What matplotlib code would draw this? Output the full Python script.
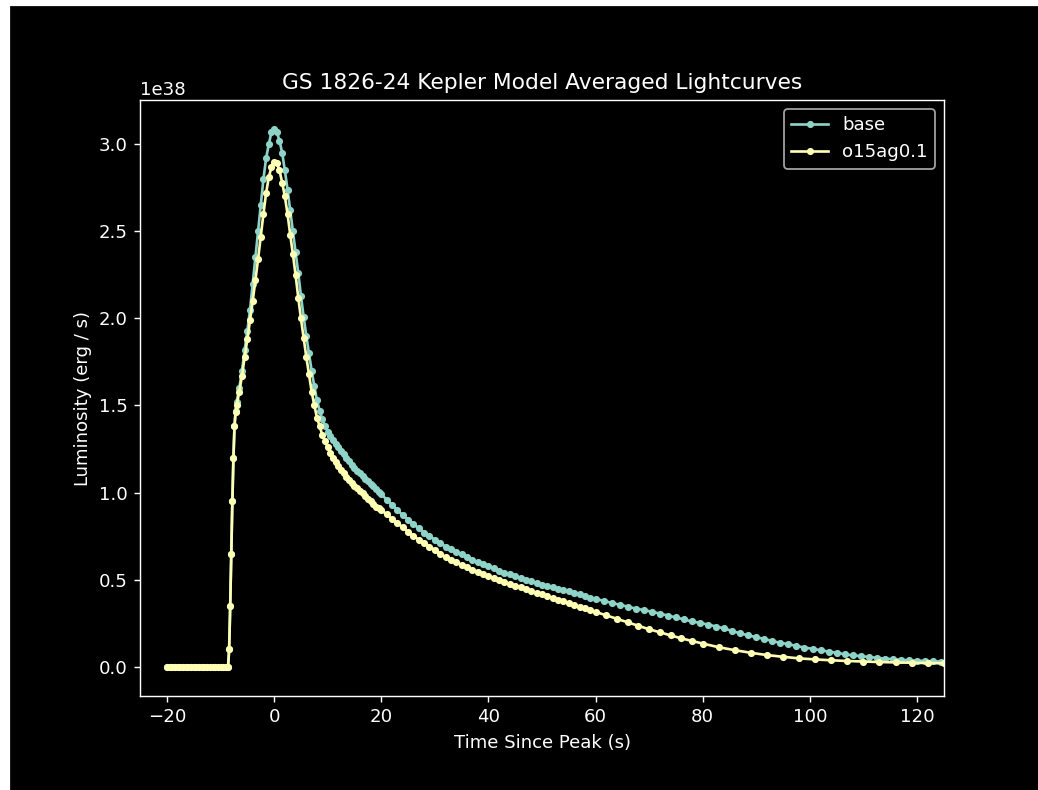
import matplotlib.pyplot as plt
import matplotlib.patches as patches
import numpy as np

plt.style.use('dark_background')
plt.rcParams['font.size'] = 10.2

# luminosity values in units of 1e38 erg/s
flat_t = [-20, -19.5, -19, -18.5, -18, -17.5, -17, -16.5, -16, -15.5, -15, -14.5,
          -14, -13.5, -13, -12.5, -12, -11.5, -11, -10.5, -10, -9.5, -9]
flat_L = [0] * len(flat_t)

rise_t = [-8.6, -8.4, -8.2, -8.0, -7.8, -7.6, -7.4, -7.2, -7.0, -6.5, -6, -5.5,
          -5, -4.5, -4, -3.5, -3, -2.5, -2, -1.5, -1, -0.5]

# base
t_base = flat_t + rise_t + [
    0, 0.5, 1, 1.5, 2, 2.5, 3, 3.5, 4, 4.5, 5, 5.5, 6, 6.5, 7, 7.5, 8, 8.5, 9, 9.5,
    10, 10.5, 11, 11.5, 12, 12.5, 13, 13.5, 14, 14.5, 15, 15.5, 16, 16.5, 17, 17.5,
    18, 18.5, 19, 19.5,
    20, 21, 22, 23, 24, 25, 26, 27, 28, 29, 30, 31, 32, 33, 34, 35, 36, 37, 38, 39,
    40, 41, 42, 43, 44, 45, 46, 47, 48, 49, 50, 51, 52, 53, 54, 55, 56, 57, 58, 59,
    60, 61.5, 63, 64.5, 66, 67.5, 69, 70.5, 72, 73.5, 75, 76.5, 78, 79.5, 81, 82.5,
    84, 85.5, 87, 88.5, 90, 91.5, 93, 94.5, 96, 97.5, 99, 100.5, 102, 103.5, 105,
    106.5, 108, 109.5, 111, 112.5, 114, 115.5, 117, 118.5, 120, 121.5, 123, 124.5, 126]
L_base = flat_L + [
    0.0, 0.1, 0.35, 0.65, 0.95, 1.2, 1.38, 1.47, 1.52, 1.6, 1.7, 1.82,
    1.93, 2.05, 2.2, 2.35, 2.5, 2.65, 2.8, 2.92, 3.0, 3.07] + [
    3.09, 3.07, 3.02, 2.95, 2.85, 2.74, 2.62, 2.5, 2.38, 2.26, 2.13, 2.01, 1.9, 1.8,
    1.7, 1.61, 1.53, 1.47, 1.42, 1.385,
    1.35, 1.325, 1.30, 1.28, 1.26, 1.24, 1.22, 1.20, 1.18, 1.16, 1.14, 1.125, 1.11,
    1.095, 1.08, 1.065, 1.05, 1.035, 1.02, 1.005,
    0.99, 0.96, 0.93, 0.90, 0.87, 0.845, 0.82, 0.795, 0.77, 0.75, 0.73, 0.71, 0.69,
    0.675, 0.66, 0.645, 0.63, 0.615, 0.60, 0.59,
    0.58, 0.565, 0.55, 0.54, 0.53, 0.52, 0.51, 0.50, 0.49, 0.48, 0.47, 0.462, 0.455,
    0.447, 0.44, 0.432, 0.425, 0.415, 0.405, 0.397,
    0.39, 0.378, 0.367, 0.356, 0.345, 0.334, 0.325, 0.316, 0.305, 0.294, 0.283,
    0.272, 0.26, 0.252, 0.242, 0.231,
    0.22, 0.205, 0.192, 0.18, 0.17, 0.159, 0.148, 0.137, 0.13, 0.119, 0.11, 0.103,
    0.095, 0.087, 0.08,
    0.072, 0.065, 0.061, 0.056, 0.051, 0.047, 0.043, 0.04, 0.037, 0.035, 0.033,
    0.031, 0.03, 0.03]

# o15ag0.1
t_o15 = flat_t + rise_t + [
    0, 0.5, 1, 1.5, 2, 2.5, 3, 3.5, 4, 4.5, 5, 5.5, 6, 6.5, 7, 7.5, 8, 8.5, 9, 9.5,
    10, 10.5, 11, 11.5, 12, 12.5, 13, 13.5, 14, 14.5, 15, 15.5, 16, 16.5, 17, 17.5,
    18, 18.5, 19, 19.5,
    20, 21, 22, 23, 24, 25, 26, 27, 28, 29, 30, 31, 32, 33, 34, 35, 36, 37, 38, 39,
    40, 41, 42, 43, 44, 45, 46, 47, 48, 49, 50, 51, 52, 53, 54, 55, 56, 57, 58, 59,
    60, 62, 64, 66, 68, 70, 72, 74, 76, 78,
    80, 83, 86, 89, 92, 95, 98, 101, 104, 107, 110, 113, 116, 119, 122, 125]
L_o15 = flat_L + [
    0.0, 0.1, 0.35, 0.65, 0.95, 1.2, 1.38, 1.46, 1.5, 1.58, 1.67, 1.78,
    1.88, 1.99, 2.1, 2.22, 2.34, 2.47, 2.6, 2.72, 2.81, 2.87] + [
    2.90, 2.89, 2.85, 2.78, 2.70, 2.6, 2.48, 2.37, 2.25, 2.12, 2.0, 1.89, 1.78, 1.68,
    1.58, 1.5, 1.43, 1.38, 1.33, 1.295,
    1.26, 1.23, 1.2, 1.175, 1.15, 1.13, 1.11, 1.09, 1.07, 1.055, 1.04, 1.025, 1.01,
    0.995, 0.98, 0.965, 0.95, 0.935, 0.92, 0.91,
    0.9, 0.875, 0.85, 0.825, 0.8, 0.775, 0.75, 0.73, 0.71, 0.69, 0.67, 0.65, 0.63,
    0.615, 0.6, 0.585, 0.57, 0.557, 0.545, 0.532,
    0.52, 0.51, 0.5, 0.487, 0.475, 0.465, 0.455, 0.445, 0.435, 0.425, 0.415, 0.405,
    0.395, 0.385, 0.375, 0.365, 0.355, 0.345, 0.335, 0.325,
    0.315, 0.295, 0.275, 0.255, 0.235, 0.215, 0.198, 0.18, 0.163, 0.148,
    0.133, 0.112, 0.095, 0.08, 0.067, 0.057, 0.048, 0.042, 0.037, 0.033, 0.03,
    0.027, 0.025, 0.023, 0.021, 0.02]

W, H, dpi = 1038, 790, 128
fig = plt.figure(figsize=(W / dpi, H / dpi), dpi=dpi, facecolor='white')
# black canvas with thin white border on the top and left
fig.patches.append(patches.Rectangle((11 / W, 0), 1 - 11 / W, 1 - 7 / H,
                                     transform=fig.transFigure, color='black', zorder=-10))

ax = fig.add_axes([140 / W, 1 - 696 / H, (944 - 140) / W, (696 - 100) / H])

ax.plot(t_base, np.array(L_base) * 1e38, '.-', label='base')
ax.plot(t_o15, np.array(L_o15) * 1e38, '.-', label='o15ag0.1')

ax.set_xlim(-25.04, 125.04)
ax.set_ylim(-0.168e38, 3.254e38)
ax.set_title('GS 1826-24 Kepler Model Averaged Lightcurves')
ax.set_xlabel('Time Since Peak (s)')
ax.set_ylabel('Luminosity (erg / s)')
ax.legend(loc='upper right')

fig.savefig('out.png', dpi=dpi, facecolor=fig.get_facecolor())
